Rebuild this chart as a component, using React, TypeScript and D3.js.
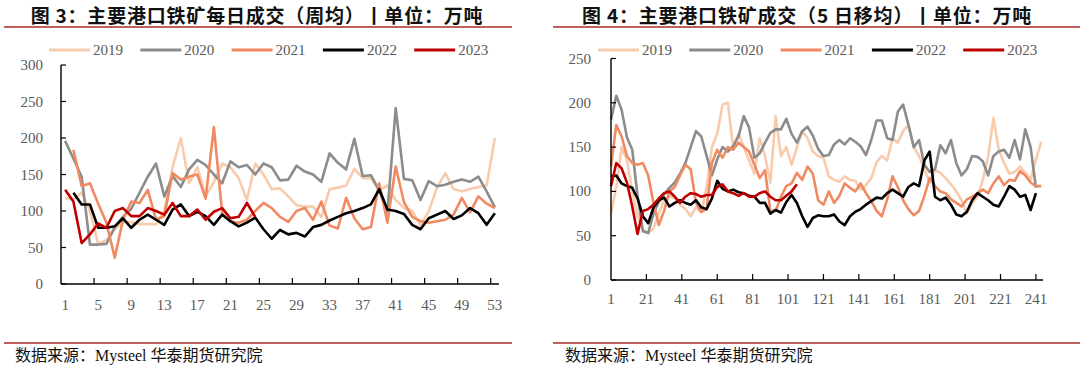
import React from 'react';
import * as d3 from 'd3';

// 年份与颜色
const years = ['2019', '2020', '2021', '2022', '2023'];
const colors = ['#F8CBAD', '#8C8C8C', '#F08A62', '#000000', '#C00000'];

// 图3：周均（第1-53周）
const weeks = d3.range(1, 54);
const weekTicks = [1, 5, 9, 13, 17, 21, 25, 29, 33, 37, 41, 45, 49, 53];
const weeklyStart = [1, 1, 2, 2, 1];
const weekly2019 = [118, 116, 125, 100, 55, 60, 75, 85, 85, 82, 82, 82, 100, 160, 200, 138, 160, 120, 140, 165, 160, 145, 115, 165, 150, 130, 131, 120, 108, 106, 106, 92, 130, 132, 135, 158, 145, 145, 128, 135, 115, 104, 100, 80, 100, 132, 152, 130, 127, 130, 133, 135, 200];
const weekly2020 = [196, 172, 147, 54, 54, 55, 78, 92, 103, 125, 147, 165, 120, 148, 133, 157, 170, 163, 150, 138, 168, 160, 163, 150, 165, 160, 142, 143, 162, 154, 150, 140, 179, 166, 157, 199, 148, 149, 128, 98, 241, 144, 142, 115, 141, 134, 136, 140, 143, 140, 147, 127, 105];
const weekly2021 = [184, 134, 138, 110, 84, 36, 88, 113, 111, 129, 88, 93, 152, 143, 147, 150, 117, 215, 97, 86, 84, 88, 100, 111, 104, 92, 85, 100, 104, 88, 113, 80, 76, 118, 90, 75, 78, 138, 84, 161, 112, 92, 86, 84, 86, 88, 95, 118, 98, 120, 110, 104];
const weekly2022 = [125, 109, 109, 77, 77, 79, 90, 77, 88, 95, 88, 81, 102, 109, 93, 99, 93, 81, 95, 86, 79, 84, 91, 75, 62, 74, 68, 70, 65, 78, 81, 87, 92, 97, 100, 104, 109, 130, 102, 100, 96, 81, 75, 90, 95, 100, 89, 94, 104, 97, 81, 97];
const weekly2023 = [129, 113, 56, 68, 83, 77, 100, 104, 93, 93, 104, 100, 95, 111, 93, 93, 102, 88, 99, 104, 90, 92, 111, 92];
const leftYTicks = [0, 50, 100, 150, 200, 250, 300];

// 图4：5日移均（每3日取一点，从第1日起）
const dayStep = 3;
const dayTicks = [1, 21, 41, 61, 81, 101, 121, 141, 161, 181, 201, 221, 241];
const daily2019 = [75, 105, 150, 135, 100, 72, 57, 53, 58, 75, 90, 95, 92, 85, 80, 72, 82, 76, 105, 150, 165, 198, 200, 150, 165, 150, 135, 120, 160, 140, 110, 185, 140, 150, 130, 150, 168, 160, 145, 140, 138, 117, 113, 111, 117, 113, 112, 102, 107, 115, 133, 140, 135, 160, 155, 168, 175, 150, 140, 125, 110, 124, 121, 115, 108, 100, 90, 75, 87, 94, 113, 139, 183, 147, 132, 120, 122, 128, 121, 113, 136, 156];
const daily2020 = [181, 208, 192, 161, 147, 95, 55, 53, 75, 88, 97, 104, 110, 120, 132, 150, 168, 162, 140, 118, 136, 150, 145, 151, 162, 185, 172, 138, 143, 155, 166, 170, 170, 182, 165, 155, 168, 173, 163, 148, 140, 141, 153, 158, 153, 160, 156, 151, 141, 158, 180, 180, 160, 158, 190, 198, 175, 150, 158, 130, 122, 125, 152, 143, 158, 132, 118, 125, 140, 139, 134, 118, 140, 145, 147, 138, 158, 136, 170, 150, 104];
const daily2021 = [128, 175, 162, 140, 132, 130, 132, 118, 87, 62, 78, 100, 105, 118, 130, 125, 87, 77, 80, 132, 147, 138, 150, 147, 155, 150, 145, 130, 115, 124, 78, 78, 94, 106, 109, 121, 113, 128, 120, 90, 85, 100, 87, 95, 109, 104, 100, 109, 98, 89, 78, 72, 91, 117, 105, 90, 80, 73, 78, 95, 115, 106, 100, 98, 91, 87, 83, 91, 94, 98, 102, 98, 109, 117, 107, 113, 112, 123, 118, 110, 106, 106];
const daily2022 = [117, 118, 109, 106, 104, 92, 72, 64, 82, 90, 93, 83, 87, 90, 87, 85, 90, 82, 80, 92, 112, 103, 100, 102, 99, 98, 95, 94, 87, 87, 75, 79, 76, 88, 96, 87, 72, 60, 70, 73, 72, 72, 74, 66, 62, 72, 77, 80, 85, 89, 93, 92, 98, 102, 98, 94, 105, 109, 106, 135, 145, 94, 90, 93, 85, 74, 72, 77, 90, 98, 94, 90, 85, 83, 94, 106, 102, 94, 96, 79, 98];
const daily2023 = [106, 132, 126, 110, 83, 52, 78, 80, 85, 92, 98, 100, 94, 87, 94, 98, 97, 94, 96, 96, 105, 108, 100, 98, 95, 98, 94, 94, 98, 100, 94, 90, 90, 95, 100, 108];
const rightYTicks = [0, 50, 100, 150, 200, 250];

const cjk = '"Noto Sans CJK SC", sans-serif';
const serif = '"Liberation Serif", "Times New Roman", "Noto Sans CJK SC", serif';
const labelColor = '#595959';
const ruleColor = '#C0605E';

type Pt = [number, number];

function Legend({ x0 }: { x0: number }) {
  return (
    <g>
      {years.map((y, i) => {
        const x = x0 + i * 91.3;
        return (
          <g key={y}>
            <line x1={x} x2={x + 41} y1={50} y2={50} stroke={colors[i]} strokeWidth={3} />
            <text x={x + 44} y={55} fontFamily={serif} fontSize={15} fill={labelColor}>{y}</text>
          </g>
        );
      })}
    </g>
  );
}

function Frame({ title, cx, x1, x2, srcX }: { title: string; cx: number; x1: number; x2: number; srcX: number }) {
  return (
    <g>
      <text x={cx} y={22.5} textAnchor="middle" fontFamily={cjk} fontWeight={700} fontSize={19} letterSpacing={0.8} fill="#111">{title}</text>
      <line x1={x1} x2={x2} y1={27} y2={27} stroke={ruleColor} strokeWidth={2.2} />
      <line x1={x1} x2={x2} y1={343} y2={343} stroke={ruleColor} strokeWidth={2.2} />
      <text x={srcX} y={361} fontFamily={serif} fontSize={16} fill="#111">数据来源：Mysteel 华泰期货研究院</text>
    </g>
  );
}

function WeeklyChart() {
  const x = d3.scaleBand<number>().domain(weeks).range([61, 499]).paddingInner(0).paddingOuter(0);
  const y = d3.scaleLinear().domain([0, 300]).range([284, 65]);
  const cx = (w: number) => (x(w) as number) + x.bandwidth() / 2;
  const line = d3.line<Pt>().x(d => cx(d[0])).y(d => y(d[1]));
  const series = [weekly2019, weekly2020, weekly2021, weekly2022, weekly2023].map((vals, i) =>
    vals.map((v, j) => [weeklyStart[i] + j, v] as Pt));
  const [r0, r1] = x.range();
  return (
    <g>
      {series.map((s, i) => (
        <path key={i} d={line(s) || ''} fill="none" stroke={colors[i]} strokeWidth={2.6} strokeLinejoin="round" />
      ))}
      <line x1={r0} x2={r0} y1={y(300)} y2={y(0)} stroke="#000" strokeWidth={1.4} />
      <line x1={r0} x2={r1} y1={y(0)} y2={y(0)} stroke="#000" strokeWidth={1.4} />
      {leftYTicks.map(t => (
        <g key={t}>
          <line x1={r0} x2={r0 + 5} y1={y(t)} y2={y(t)} stroke="#000" strokeWidth={1.2} />
          <text x={r0 - 18} y={y(t) + 5} textAnchor="end" fontFamily={serif} fontSize={15} fill={labelColor}>{t}</text>
        </g>
      ))}
      {weekTicks.map(w => (
        <g key={w}>
          {w > 1 && <line x1={x(w)} x2={x(w)} y1={y(0)} y2={y(0) - 6} stroke="#000" strokeWidth={1.2} />}
          <text x={cx(w)} y={310} textAnchor="middle" fontFamily={serif} fontSize={15} fill={labelColor}>{w}</text>
        </g>
      ))}
    </g>
  );
}

function DailyChart() {
  const x = d3.scaleLinear().domain([1, 245]).range([611, 1043]);
  const y = d3.scaleLinear().domain([0, 250]).range([280, 58.5]);
  const line = d3.line<Pt>().x(d => x(d[0])).y(d => y(d[1]));
  const series = [daily2019, daily2020, daily2021, daily2022, daily2023].map(vals =>
    vals.map((v, j) => [1 + j * dayStep, v] as Pt));
  const [r0, r1] = x.range();
  return (
    <g>
      {series.map((s, i) => (
        <path key={i} d={line(s) || ''} fill="none" stroke={colors[i]} strokeWidth={2.6} strokeLinejoin="round" />
      ))}
      <line x1={r0} x2={r0} y1={y(250)} y2={y(0)} stroke="#000" strokeWidth={1.4} />
      <line x1={r0} x2={r1} y1={y(0)} y2={y(0)} stroke="#000" strokeWidth={1.4} />
      {rightYTicks.map(t => (
        <g key={t}>
          <line x1={r0} x2={r0 + 5} y1={y(t)} y2={y(t)} stroke="#000" strokeWidth={1.2} />
          <text x={r0 - 20} y={y(t) + 5} textAnchor="end" fontFamily={serif} fontSize={15} fill={labelColor}>{t}</text>
        </g>
      ))}
      {dayTicks.map(d => (
        <g key={d}>
          {d > 1 && <line x1={x(d)} x2={x(d)} y1={y(0)} y2={y(0) - 6} stroke="#000" strokeWidth={1.2} />}
          <text x={x(d)} y={304} textAnchor="middle" fontFamily={serif} fontSize={15} fill={labelColor}>{d}</text>
        </g>
      ))}
    </g>
  );
}

export default function App() {
  return (
    <svg width={1080} height={366} style={{ position: 'absolute', left: 0, top: 0, background: '#fff' }}>
      <rect width={1080} height={366} fill="#fff" />
      <Frame title={'图\u00A03：主要港口铁矿每日成交（周均）丨单位：万吨'} cx={257} x1={4} x2={512} srcX={15} />
      <Frame title={'图\u00A04：主要港口铁矿成交（5\u00A0日移均）丨单位：万吨'} cx={807} x1={553} x2={1080} srcX={565} />
      <Legend x0={49} />
      <Legend x0={598} />
      <WeeklyChart />
      <DailyChart />
    </svg>
  );
}
